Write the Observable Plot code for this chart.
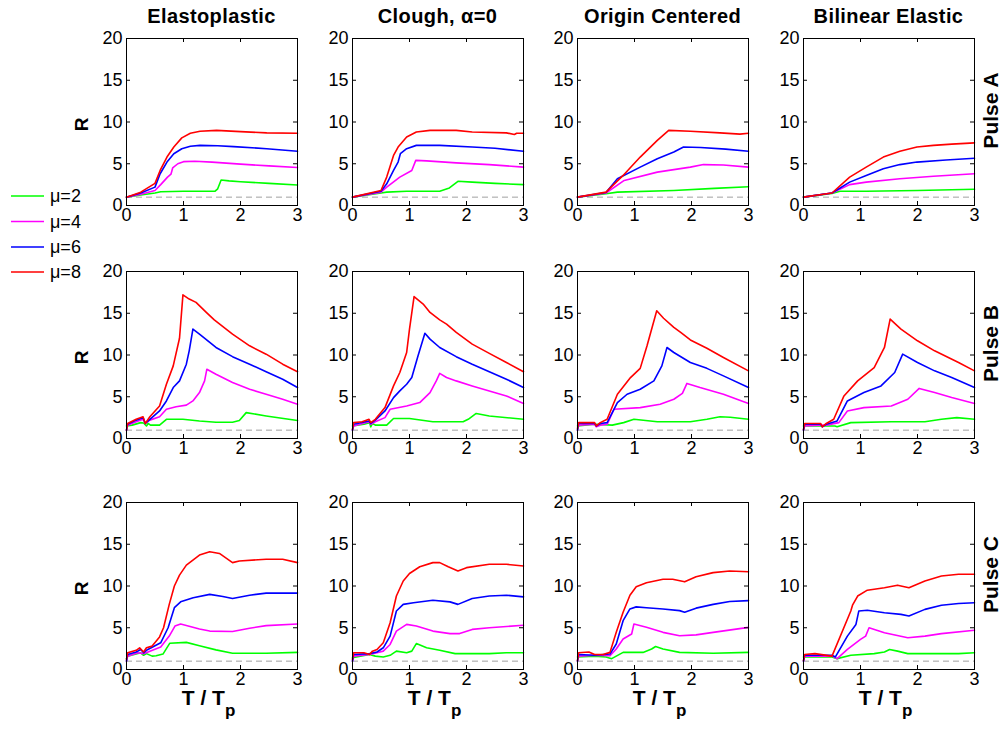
<!DOCTYPE html>
<html><head><meta charset="utf-8">
<script src="https://cdn.jsdelivr.net/npm/d3@7"></script>
<script src="https://cdn.jsdelivr.net/npm/@observablehq/plot@0.6"></script>
<style>
body{margin:0;background:#fff;}
#root{position:relative;width:1004px;height:729px;overflow:hidden;background:#fff;}
#root .panel{position:absolute;}
#overlay{position:absolute;left:0;top:0;}
</style></head><body><div id="root"></div>
<script>
// ---------- categories & labels ----------
const models = ["Elastoplastic", "Clough, \u03b1=0", "Origin Centered", "Bilinear Elastic"];
const pulses = ["Pulse A", "Pulse B", "Pulse C"];
const muLabels = ["\u03bc=2", "\u03bc=4", "\u03bc=6", "\u03bc=8"];
const muColors = ["#00ff00", "#ff00ff", "#0000ff", "#ff0000"];
const xTicks = [0, 1, 2, 3];
const yTicks = [0, 5, 10, 15, 20];
const xInnerTicks = [1, 2];
const yInnerTicks = [5, 10, 15];
const baseline = [1];

// ---------- series: each panel = [mu2, mu4, mu6, mu8], flat (T/Tp, R) pairs ----------
const pulseA_EP = [
  [0,1, 0.25,1.25, 0.5,1.5, 0.6,1.65, 1.0,1.7, 1.55,1.7, 1.6,2.0, 1.66,3.05, 1.8,2.95, 2.0,2.85, 2.5,2.65, 3.0,2.45],
  [0,1, 0.25,1.35, 0.5,1.8, 0.6,2.5, 0.72,3.4, 0.78,3.75, 0.81,4.5, 0.9,5.0, 1.0,5.25, 1.2,5.3, 1.5,5.2, 2.0,4.95, 2.5,4.75, 3.0,4.55],
  [0,1, 0.25,1.5, 0.5,2.2, 0.59,3.8, 0.71,5.2, 0.83,6.2, 0.97,6.8, 1.12,7.1, 1.29,7.2, 1.6,7.15, 1.88,7.05, 2.46,6.8, 3.0,6.5],
  [0,1, 0.25,1.6, 0.5,2.65, 0.59,4.2, 0.71,5.8, 0.83,7.0, 0.97,8.1, 1.12,8.65, 1.29,8.9, 1.58,9.0, 2.0,8.85, 2.46,8.7, 3.0,8.65]
];
const pulseA_CL = [
  [0,1, 0.5,1.5, 0.6,1.6, 0.95,1.7, 1.53,1.7, 1.7,2.1, 1.85,2.9, 2.1,2.8, 2.5,2.65, 3.0,2.5],
  [0,1, 0.5,1.6, 0.6,2.2, 0.83,3.4, 1.04,4.2, 1.11,5.4, 1.3,5.35, 1.82,5.1, 2.4,4.9, 3.0,4.6],
  [0,1, 0.5,1.7, 0.6,2.6, 0.72,4.2, 0.8,5.2, 0.84,6.2, 0.95,6.8, 1.12,7.2, 1.53,7.2, 2.1,7.0, 2.5,6.85, 3.0,6.5],
  [0,1, 0.5,1.8, 0.6,3.4, 0.72,6.0, 0.8,7.0, 0.95,8.2, 1.12,8.8, 1.36,9.0, 1.82,9.0, 2.1,8.8, 2.7,8.7, 2.84,8.5, 2.88,8.65, 3.0,8.65]
];
const pulseA_OC = [
  [0,1, 0.5,1.4, 0.7,1.6, 1.69,1.8, 2.4,2.05, 3.0,2.25],
  [0,1, 0.5,1.5, 0.82,3.0, 1.4,4.0, 1.98,4.6, 2.21,4.9, 2.56,4.85, 3.0,4.6],
  [0,1, 0.5,1.55, 0.7,3.2, 1.1,4.6, 1.4,5.6, 1.69,6.4, 1.86,7.0, 2.16,6.95, 2.6,6.75, 3.0,6.5],
  [0,1, 0.5,1.6, 0.8,3.6, 1.1,5.8, 1.4,7.8, 1.6,9.0, 1.98,8.9, 2.5,8.7, 2.85,8.55, 3.0,8.65]
];
const pulseA_BE = [
  [0,1, 0.5,1.45, 0.64,1.7, 1.1,1.7, 2.0,1.8, 3.0,1.95],
  [0,1, 0.5,1.5, 0.81,2.5, 1.1,2.8, 1.69,3.2, 2.28,3.5, 3.0,3.8],
  [0,1, 0.5,1.5, 0.81,2.8, 1.1,3.6, 1.4,4.4, 1.69,4.9, 1.99,5.2, 2.5,5.45, 3.0,5.65],
  [0,1, 0.5,1.5, 0.81,3.4, 1.1,4.6, 1.4,5.8, 1.69,6.5, 1.99,7.0, 2.28,7.2, 2.6,7.35, 3.0,7.5]
];
const pulseB_EP = [
  [0,1.5, 0.1,1.6, 0.25,1.9, 0.3,1.85, 0.35,1.5, 0.38,1.8, 0.42,1.6, 0.58,1.6, 0.7,2.3, 0.99,2.3, 1.28,2.1, 1.57,1.95, 1.86,1.95, 1.98,2.15, 2.1,3.1, 2.45,2.7, 3.0,2.15],
  [0,1, 0.02,1.6, 0.17,2.0, 0.29,2.3, 0.33,1.8, 0.41,2.2, 0.58,2.6, 0.7,3.5, 0.87,3.8, 1.05,4.0, 1.165,4.5, 1.28,5.5, 1.37,6.9, 1.41,8.3, 1.57,7.7, 1.86,6.7, 2.16,5.9, 2.45,5.3, 2.74,4.7, 3.0,4.1],
  [0,1, 0.02,1.7, 0.17,2.2, 0.29,2.5, 0.33,1.8, 0.41,2.3, 0.58,3.3, 0.7,4.5, 0.82,6.1, 0.93,6.9, 1.05,8.9, 1.1,10.5, 1.165,13.1, 1.28,12.5, 1.57,10.9, 1.86,9.8, 2.16,8.9, 2.45,8.0, 2.74,7.1, 3.0,6.1],
  [0,1, 0.02,1.8, 0.17,2.3, 0.29,2.6, 0.33,1.8, 0.41,2.6, 0.58,3.9, 0.7,6.5, 0.82,8.7, 0.93,12.0, 0.99,17.2, 1.1,16.7, 1.22,16.3, 1.4,15.1, 1.54,14.2, 1.86,12.5, 2.16,11.1, 2.45,10.1, 2.74,8.9, 3.0,8.0]
];
const pulseB_CL = [
  [0,1.5, 0.2,1.7, 0.3,1.9, 0.32,1.4, 0.35,1.8, 0.4,1.6, 0.6,1.6, 0.72,2.4, 1.0,2.4, 1.41,2.0, 1.94,2.0, 2.03,2.3, 2.17,3.0, 2.4,2.7, 3.0,2.3],
  [0,1, 0.02,1.5, 0.29,2.0, 0.32,1.7, 0.4,2.0, 0.57,2.5, 0.66,3.5, 0.95,3.9, 1.18,4.3, 1.36,5.5, 1.47,6.9, 1.53,7.8, 1.65,7.3, 1.82,6.9, 2.1,6.3, 2.4,5.7, 2.7,5.1, 3.0,4.2],
  [0,1, 0.02,1.7, 0.29,2.1, 0.32,1.8, 0.4,2.2, 0.57,3.3, 0.72,4.9, 0.83,5.7, 0.95,6.5, 1.04,7.3, 1.15,9.9, 1.27,12.6, 1.36,11.9, 1.53,10.9, 1.82,9.8, 2.1,8.9, 2.4,8.0, 2.7,7.1, 3.0,6.1],
  [0,1.1, 0.02,1.9, 0.17,2.0, 0.29,2.3, 0.32,1.9, 0.4,2.3, 0.57,3.7, 0.72,6.3, 0.83,7.9, 0.95,10.3, 1.0,13.1, 1.08,17.0, 1.24,16.1, 1.36,15.1, 1.53,14.2, 1.65,13.7, 1.82,12.7, 2.1,11.3, 2.4,10.2, 2.7,9.1, 3.0,8.0]
];
const pulseB_OC = [
  [0,1.5, 0.3,1.7, 0.61,1.6, 0.81,1.9, 0.99,2.3, 1.4,2.0, 1.98,2.0, 2.27,2.3, 2.5,2.6, 2.68,2.55, 3.0,2.3],
  [0,1, 0.02,1.6, 0.3,1.7, 0.33,1.4, 0.4,1.6, 0.52,1.7, 0.64,3.5, 1.1,3.7, 1.45,4.1, 1.69,4.7, 1.84,5.4, 1.92,6.6, 2.15,6.1, 2.56,5.3, 3.0,4.2],
  [0,1, 0.02,1.8, 0.3,1.8, 0.33,1.5, 0.4,1.8, 0.52,1.9, 0.7,4.3, 0.87,5.3, 1.1,5.9, 1.34,6.9, 1.48,8.7, 1.57,10.9, 1.69,10.3, 1.98,9.1, 2.27,8.4, 2.56,7.5, 3.0,6.1],
  [0,1.2, 0.02,1.9, 0.3,1.9, 0.33,1.5, 0.4,1.9, 0.52,2.3, 0.7,5.3, 0.93,7.3, 1.1,8.4, 1.22,11.1, 1.39,15.3, 1.51,14.4, 1.69,13.3, 1.81,12.7, 1.98,11.8, 2.27,10.8, 2.56,9.7, 3.0,8.1]
];
const pulseB_BE = [
  [0,1.5, 0.3,1.5, 0.55,1.5, 0.59,1.4, 0.83,1.9, 1.54,2.0, 2.13,2.0, 2.42,2.3, 2.69,2.5, 3.0,2.3],
  [0,1, 0.02,1.5, 0.3,1.6, 0.4,1.6, 0.62,1.9, 0.77,3.3, 1.06,3.7, 1.54,3.9, 1.83,4.7, 2.03,6.0, 2.3,5.5, 2.6,4.9, 3.0,4.2],
  [0,1, 0.02,1.7, 0.3,1.7, 0.33,1.4, 0.4,1.7, 0.59,2.1, 0.77,4.5, 1.06,5.5, 1.36,6.3, 1.6,7.9, 1.74,10.1, 2.0,9.1, 2.3,8.1, 2.6,7.3, 3.0,6.1],
  [0,1.1, 0.02,1.8, 0.3,1.8, 0.33,1.4, 0.4,1.8, 0.53,2.3, 0.71,5.1, 0.95,6.9, 1.24,8.5, 1.42,10.9, 1.52,14.3, 1.71,13.1, 2.0,11.7, 2.3,10.5, 2.72,9.1, 3.0,8.1]
];
const pulseC_EP = [
  [0,1.3, 0.02,1.6, 0.25,2.0, 0.3,1.7, 0.35,1.9, 0.45,1.6, 0.52,1.65, 0.64,1.85, 0.76,3.15, 1.05,3.25, 1.28,2.85, 1.57,2.35, 1.86,1.95, 2.45,1.95, 3.0,2.05],
  [0,1, 0.02,1.6, 0.2,2.0, 0.3,1.9, 0.6,2.7, 0.75,4.0, 0.85,5.2, 0.95,5.45, 1.28,4.85, 1.46,4.6, 1.86,4.55, 2.16,4.95, 2.45,5.25, 3.0,5.45],
  [0,1, 0.02,1.8, 0.17,2.1, 0.25,2.4, 0.3,2.0, 0.35,2.3, 0.6,3.2, 0.73,5.0, 0.84,7.4, 0.95,8.1, 1.17,8.6, 1.46,9.0, 1.69,8.75, 1.86,8.5, 2.16,8.9, 2.45,9.15, 3.0,9.15],
  [0,1.2, 0.02,2.0, 0.17,2.3, 0.23,2.6, 0.3,2.1, 0.35,2.6, 0.45,2.8, 0.58,3.9, 0.65,5.0, 0.75,7.8, 0.84,10.0, 0.93,11.3, 1.05,12.5, 1.28,13.7, 1.46,14.1, 1.63,13.9, 1.86,12.8, 1.98,13.0, 2.45,13.2, 2.74,13.2, 3.0,12.8]
];
const pulseC_CL = [
  [0,1.4, 0.3,1.8, 0.4,1.6, 0.54,1.5, 0.66,1.7, 0.77,2.2, 0.95,2.0, 1.04,2.2, 1.12,3.1, 1.3,2.6, 1.53,2.3, 1.8,1.9, 2.4,1.9, 2.7,2.0, 3.0,2.0],
  [0,1, 0.02,1.6, 0.3,1.8, 0.43,2.0, 0.54,2.2, 0.66,3.0, 0.77,4.6, 0.95,5.4, 1.12,5.2, 1.41,4.6, 1.71,4.3, 1.88,4.3, 2.1,4.8, 2.4,5.0, 3.0,5.3],
  [0,1, 0.02,1.8, 0.3,1.9, 0.43,2.1, 0.54,2.6, 0.66,4.0, 0.77,7.0, 0.89,7.8, 1.07,8.0, 1.41,8.3, 1.71,8.1, 1.85,7.8, 2.1,8.5, 2.4,8.8, 2.7,8.9, 3.0,8.7],
  [0,1.2, 0.02,2.0, 0.2,2.0, 0.3,1.8, 0.35,2.2, 0.43,2.4, 0.54,3.2, 0.66,5.6, 0.77,8.8, 0.89,10.6, 1.0,11.5, 1.18,12.3, 1.41,12.8, 1.53,12.8, 1.68,12.3, 1.85,11.8, 2.0,12.2, 2.4,12.6, 2.7,12.6, 3.0,12.4]
];
const pulseC_OC = [
  [0,1.5, 0.3,1.6, 0.5,1.5, 0.6,1.3, 0.8,2.05, 1.15,2.05, 1.3,2.45, 1.37,2.75, 1.5,2.45, 1.79,2.05, 2.38,1.95, 3.0,2.05],
  [0,1, 0.02,1.6, 0.3,1.7, 0.57,1.65, 0.68,2.45, 0.8,3.65, 0.95,4.25, 0.99,5.45, 1.21,5.05, 1.5,4.45, 1.79,4.05, 2.08,4.15, 2.38,4.45, 3.0,5.05],
  [0,1, 0.02,1.8, 0.3,1.7, 0.57,1.85, 0.68,3.05, 0.8,5.85, 0.92,7.25, 1.03,7.5, 1.21,7.4, 1.5,7.25, 1.79,7.05, 1.88,6.85, 2.08,7.35, 2.38,7.8, 2.67,8.15, 3.0,8.25],
  [0,1.1, 0.02,2.0, 0.2,2.1, 0.3,1.8, 0.45,1.8, 0.57,2.05, 0.68,4.45, 0.8,6.85, 0.92,8.9, 1.03,9.9, 1.21,10.4, 1.5,10.8, 1.67,10.8, 1.88,10.5, 2.08,11.1, 2.38,11.6, 2.67,11.8, 3.0,11.7]
];
const pulseC_BE = [
  [0,1.5, 0.5,1.5, 0.59,1.3, 0.83,1.7, 1.24,1.9, 1.42,2.1, 1.51,2.4, 1.65,2.2, 1.83,1.9, 2.72,1.9, 3.0,2.0],
  [0,1, 0.02,1.6, 0.5,1.6, 0.59,1.3, 0.77,2.4, 1.0,3.6, 1.09,4.0, 1.15,5.0, 1.42,4.4, 1.83,3.8, 2.13,4.0, 2.42,4.3, 3.0,4.7],
  [0,1, 0.02,1.7, 0.5,1.7, 0.56,1.5, 0.77,4.0, 0.92,5.4, 0.97,7.0, 1.12,7.1, 1.42,6.8, 1.71,6.6, 1.85,6.4, 2.13,7.2, 2.42,7.7, 2.72,7.9, 3.0,8.0],
  [0,1.1, 0.02,1.8, 0.2,1.9, 0.5,1.6, 0.83,7.0, 0.86,7.7, 0.95,8.8, 1.12,9.5, 1.42,9.8, 1.65,10.1, 1.85,9.8, 2.13,10.6, 2.42,11.2, 2.72,11.4, 3.0,11.4]
];

const grid = [
  [pulseA_EP, pulseA_CL, pulseA_OC, pulseA_BE],
  [pulseB_EP, pulseB_CL, pulseB_OC, pulseB_BE],
  [pulseC_EP, pulseC_CL, pulseC_OC, pulseC_BE]
];

// ---------- layout ----------
const FONT = '"Liberation Sans", Arial, Helvetica, sans-serif';
const PW = 171, PH = 167;
const ML = 45, MR = 10, MT = 10, MB = 30;
const colLeft = [126, 352, 577, 803];
const rowTop = [38, 271, 502];
const root = document.getElementById("root");

function toRows(curves) {
  const out = [];
  curves.forEach((flat, i) => {
    for (let k = 0; k < flat.length; k += 2) out.push({x: flat[k], y: flat[k + 1], mu: muLabels[i]});
  });
  return out;
}

function panel(curves) {
  const data = toRows(curves);
  return Plot.plot({
    width: PW + ML + MR, height: PH + MT + MB,
    marginLeft: ML, marginRight: MR, marginTop: MT, marginBottom: MB,
    style: {background: "transparent", fontFamily: FONT, fontSize: "18px", color: "#000", overflow: "visible"},
    x: {domain: [0, 3]},
    y: {domain: [0, 20]},
    color: {domain: muLabels, range: muColors},
    marks: [
      Plot.ruleY(baseline, {stroke: "#a0a0a0", strokeWidth: 1, strokeDasharray: "6,4"}),
      Plot.line(data, {x: "x", y: "y", z: "mu", stroke: "mu", strokeWidth: 1.6, strokeLinejoin: "round"}),
      Plot.frame({stroke: "#000", strokeWidth: 1}),
      Plot.tickX(xInnerTicks, {x: d => d, insetTop: PH - 4, stroke: "#000"}),
      Plot.tickX(xInnerTicks, {x: d => d, insetBottom: PH - 4, stroke: "#000"}),
      Plot.tickY(yInnerTicks, {y: d => d, insetRight: PW - 4, stroke: "#000"}),
      Plot.tickY(yInnerTicks, {y: d => d, insetLeft: PW - 4, stroke: "#000"}),
      Plot.axisX(xTicks, {tickSize: 0, tickPadding: 3, label: null, fontSize: 18}),
      Plot.axisY(yTicks, {tickSize: 0, tickPadding: 4, label: null, fontSize: 18})
    ]
  });
}

grid.forEach((row, r) => row.forEach((curves, c) => {
  const svg = panel(curves);
  svg.classList.add("panel");
  svg.style.left = (colLeft[c] - ML) + "px";
  svg.style.top = (rowTop[r] - MT) + "px";
  root.appendChild(svg);
}));

// ---------- overlay text: titles, axis labels, row labels, legend ----------
const ov = d3.select(root).append("svg").attr("id", "overlay")
  .attr("width", 1004).attr("height", 729)
  .style("font-family", FONT).style("pointer-events", "none");

models.forEach((m, c) => {
  ov.append("text").attr("x", colLeft[c] + PW / 2).attr("y", 23)
    .attr("text-anchor", "middle").attr("font-weight", "bold").attr("font-size", 20)
    .attr("letter-spacing", 0.4).text(m);
  const t = ov.append("text").attr("x", colLeft[c] + PW / 2 - 3).attr("y", 705)
    .attr("text-anchor", "middle").attr("font-weight", "bold").attr("font-size", 21);
  t.append("tspan").text("T / T");
  t.append("tspan").attr("font-size", 17).attr("dy", 11).text("p");
});

pulses.forEach((p, r) => {
  const cy = rowTop[r] + PH / 2;
  ov.append("text").attr("transform", `translate(88,${cy + 3}) rotate(-90)`)
    .attr("text-anchor", "middle").attr("font-weight", "bold").attr("font-size", 19).text("R");
  ov.append("text").attr("transform", `translate(998,${cy - 11}) rotate(-90)`)
    .attr("text-anchor", "middle").attr("font-weight", "bold").attr("font-size", 21).text(p);
});

const legY = [196, 221.5, 247, 272];
muLabels.forEach((lab, i) => {
  ov.append("line").attr("x1", 11).attr("x2", 44).attr("y1", legY[i]).attr("y2", legY[i])
    .attr("stroke", muColors[i]).attr("stroke-width", 1.6);
  ov.append("text").attr("x", 50).attr("y", legY[i]).attr("dy", "0.36em")
    .attr("font-size", 18).text(lab);
});
</script>
</body></html>
